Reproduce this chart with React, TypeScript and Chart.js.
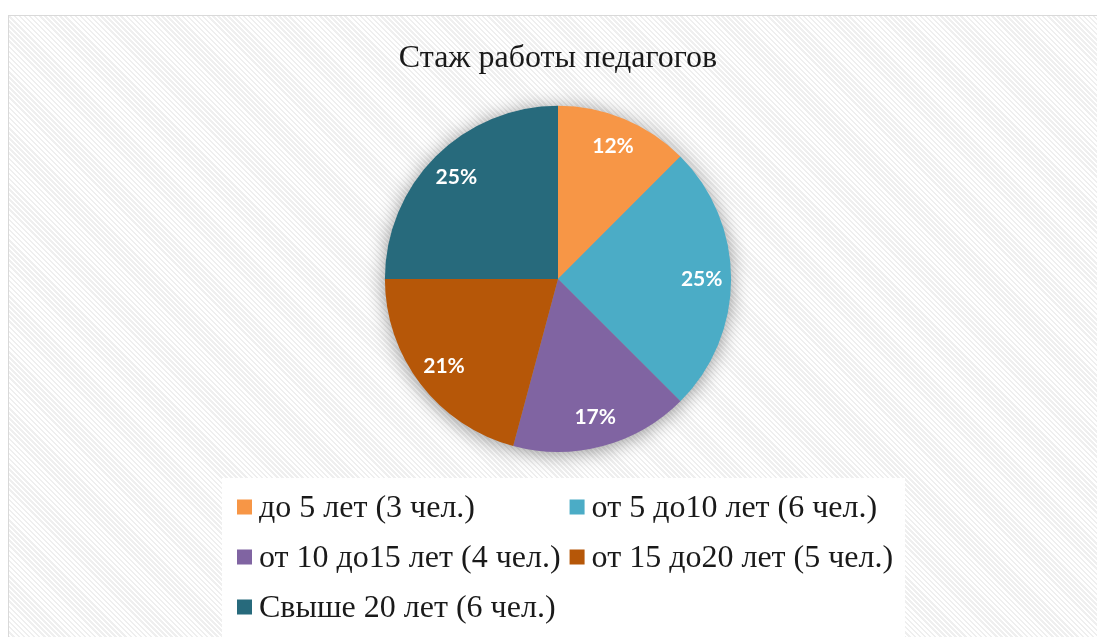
import React, { useEffect, useRef } from 'react';
import { Chart, registerables } from 'chart.js';

Chart.register(...registerables);

const chartTitle = 'Стаж работы педагогов';
const categories = [
  'до 5 лет (3 чел.)',
  'от 5 до10 лет (6 чел.)',
  'от 10 до15 лет (4 чел.)',
  'от 15 до20 лет (5 чел.)',
  'Свыше 20 лет (6 чел.)',
];
const counts = [3, 6, 4, 5, 6];
const percentLabels = ['12%', '25%', '17%', '21%', '25%'];
const colors = ['#F79646', '#4BACC6', '#8064A2', '#B65708', '#276A7C'];

const shadowPlugin = {
  id: 'pieShadow',
  beforeDatasetsDraw(chart: any) {
    const arc = chart.getDatasetMeta(0).data[0];
    if (!arc) return;
    const { x, y, outerRadius } = arc.getProps(['x', 'y', 'outerRadius'], true);
    const ctx = chart.ctx;
    ctx.save();
    ctx.shadowColor = 'rgba(0,0,0,0.45)';
    ctx.shadowBlur = 20;
    ctx.shadowOffsetX = 0;
    ctx.shadowOffsetY = 2;
    ctx.fillStyle = '#999';
    ctx.beginPath();
    ctx.arc(x, y, outerRadius - 1, 0, Math.PI * 2);
    ctx.fill();
    ctx.restore();
  },
};

const labelPlugin = {
  id: 'sliceLabels',
  afterDatasetsDraw(chart: any) {
    const ctx = chart.ctx;
    const meta = chart.getDatasetMeta(0);
    ctx.save();
    ctx.fillStyle = '#ffffff';
    ctx.font = 'bold 21px Lato, "Noto Sans", sans-serif';
    ctx.textAlign = 'center';
    ctx.textBaseline = 'middle';
    meta.data.forEach((arc: any, i: number) => {
      const p = arc.getProps(['x', 'y', 'startAngle', 'endAngle', 'outerRadius'], true);
      const mid = (p.startAngle + p.endAngle) / 2;
      const r = p.outerRadius * 0.83;
      ctx.fillText(percentLabels[i], p.x + Math.cos(mid) * r, p.y + Math.sin(mid) * r);
    });
    ctx.restore();
  },
};

const legendPlugin = {
  id: 'gridLegend',
  afterDraw(chart: any) {
    const ctx = chart.ctx;
    const font = '32px "Liberation Serif", "Times New Roman", serif';
    ctx.save();
    ctx.font = font;
    const boxLeft = 213;
    const boxTop = 462;
    const boxRight = 896;
    ctx.fillStyle = '#ffffff';
    ctx.fillRect(boxLeft, boxTop, boxRight - boxLeft, chart.height - boxTop);
    const sq = 15;
    const gapText = 7;
    const col1 = 228;
    let maxW = 0;
    categories.forEach((c, i) => {
      if (i % 2 === 0) maxW = Math.max(maxW, ctx.measureText(c).width);
    });
    const col2 = col1 + sq + gapText + maxW + 9;
    const rowY = [491, 541, 591];
    ctx.textBaseline = 'middle';
    ctx.textAlign = 'left';
    categories.forEach((c, i) => {
      const x = i % 2 === 0 ? col1 : col2;
      const y = rowY[Math.floor(i / 2)];
      ctx.fillStyle = colors[i];
      ctx.fillRect(x, y - sq / 2, sq, sq);
      ctx.fillStyle = '#1a1a1a';
      ctx.fillText(c, x + sq + gapText, y + 2);
    });
    ctx.restore();
  },
};

export default function App() {
  const ref = useRef<HTMLCanvasElement | null>(null);

  useEffect(() => {
    if (!ref.current) return;
    const chart = new Chart(ref.current, {
      type: 'pie',
      data: {
        labels: categories,
        datasets: [
          {
            data: counts,
            backgroundColor: colors,
            borderWidth: 0,
            hoverOffset: 0,
          },
        ],
      },
      options: {
        responsive: false,
        animation: false,
        events: [],
        layout: { padding: { top: 0, bottom: 194, left: 0, right: 1 } },
        plugins: {
          legend: { display: false },
          tooltip: { enabled: false },
          title: {
            display: true,
            text: chartTitle,
            color: '#1a1a1a',
            font: { family: '"Liberation Serif", "Times New Roman", serif', size: 32, weight: 'normal' },
            padding: { top: 23, bottom: 28.4 },
          },
        },
      },
      plugins: [shadowPlugin, labelPlugin, legendPlugin],
    });
    return () => chart.destroy();
  }, []);

  return (
    <div
      style={{
        position: 'fixed',
        left: 8,
        top: 15,
        width: 1100,
        height: 640,
        border: '1px solid #d9d9d9',
        background:
          'repeating-linear-gradient(45deg, #ffffff 0px, #ffffff 1.8px, #efefef 1.8px, #efefef 3.6px)',
      }}
    >
      <canvas ref={ref} width={1099} height={630} style={{ display: 'block' }} />
    </div>
  );
}
